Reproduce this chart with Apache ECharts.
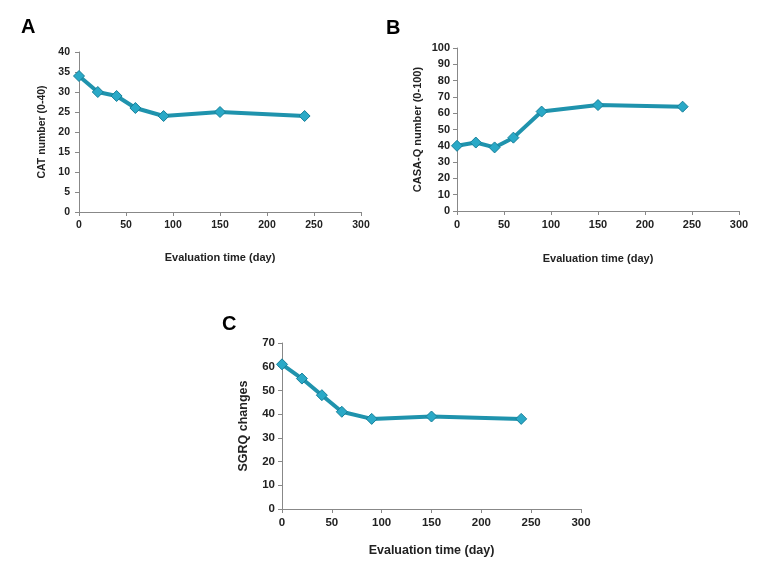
<!DOCTYPE html>
<html>
<head>
    <meta charset="utf-8">
    <title>CAT / CASA-Q / SGRQ</title>
    <script src="https://cdn.jsdelivr.net/npm/echarts@6/dist/echarts.min.js"></script>
    <style>
        html, body { margin: 0; padding: 0; background: #fff; }
        #chartmain { width: 771px; height: 579px; }
    </style>
</head>
<body>
    <div id="chartmain"></div>

    <script type="text/javascript">
        // 数据
        var days = [0, 20, 40, 60, 90, 150, 240];
        var catValues = [34, 30, 29, 26, 24, 25, 24];
        var casaValues = [40, 42, 39, 45, 61, 65, 64];
        var sgrqValues = [61, 55, 48, 41, 38, 39, 38];

        var lineColor = '#1f93ad';
        var markColor = '#2aa9c7';
        var fontFam = 'Liberation Sans, Arial, sans-serif';

        function pairs(xs, ys) {
            return xs.map(function (x, i) { return [x, ys[i]]; });
        }

        function xAxis(idx, fs, nameSize, gap) {
            return {
                type: 'value', gridIndex: idx, min: 0, max: 300, interval: 50,
                name: 'Evaluation time (day)', nameLocation: 'middle', nameGap: gap,
                nameTextStyle: { fontFamily: fontFam, fontWeight: 'bold', fontSize: nameSize, color: '#222' },
                axisLine: { lineStyle: { color: '#888' } },
                axisTick: { show: true, inside: false, length: 4, lineStyle: { color: '#888' } },
                axisLabel: { fontFamily: fontFam, fontWeight: 'bold', fontSize: fs, color: '#222', margin: 8 },
                splitLine: { show: false }
            };
        }

        function yAxis(idx, max, interval, name, fs, nameSize, gap, margin) {
            return {
                type: 'value', gridIndex: idx, min: 0, max: max, interval: interval,
                name: name, nameLocation: 'middle', nameGap: gap,
                nameTextStyle: { fontFamily: fontFam, fontWeight: 'bold', fontSize: nameSize, color: '#222' },
                axisLine: { show: true, lineStyle: { color: '#888' } },
                axisTick: { show: true, inside: false, length: 4, lineStyle: { color: '#888' } },
                axisLabel: { fontFamily: fontFam, fontWeight: 'bold', fontSize: fs, color: '#222', margin: margin },
                splitLine: { show: false }
            };
        }

        function series(idx, data) {
            return {
                type: 'line', xAxisIndex: idx, yAxisIndex: idx,
                data: data,
                symbol: 'diamond', symbolSize: 11,
                lineStyle: { color: lineColor, width: 4 },
                itemStyle: { color: markColor, borderColor: '#17809a', borderWidth: 1 },
                z: 3
            };
        }

        var myChart = echarts.init(document.getElementById('chartmain'));

        myChart.setOption({
            animation: false,
            backgroundColor: '#fff',
            title: [
                { text: 'A', left: 16, top: 12, textStyle: { fontFamily: fontFam, fontWeight: 'bold', fontSize: 20, color: '#000' } },
                { text: 'B', left: 381, top: 13, textStyle: { fontFamily: fontFam, fontWeight: 'bold', fontSize: 20, color: '#000' } },
                { text: 'C', left: 217, top: 309, textStyle: { fontFamily: fontFam, fontWeight: 'bold', fontSize: 20, color: '#000' } }
            ],
            grid: [
                { left: 79, top: 52, width: 282, height: 160 },
                { left: 457, top: 48, width: 282, height: 163 },
                { left: 282, top: 343, width: 299, height: 166 }
            ],
            xAxis: [
                xAxis(0, 10.5, 11, 40),
                xAxis(1, 11, 11, 42),
                xAxis(2, 11.5, 12.5, 35)
            ],
            yAxis: [
                yAxis(0, 40, 5, 'CAT number (0-40)', 10.5, 10.5, 31, 9),
                yAxis(1, 100, 10, 'CASA-Q number (0-100)', 11, 11, 34, 7),
                yAxis(2, 70, 10, 'SGRQ changes', 11.5, 12.5, 32, 7)
            ],
            series: [
                series(0, pairs(days, catValues)),
                series(1, pairs(days, casaValues)),
                series(2, pairs(days, sgrqValues))
            ]
        });
    </script>
</body>
</html>
